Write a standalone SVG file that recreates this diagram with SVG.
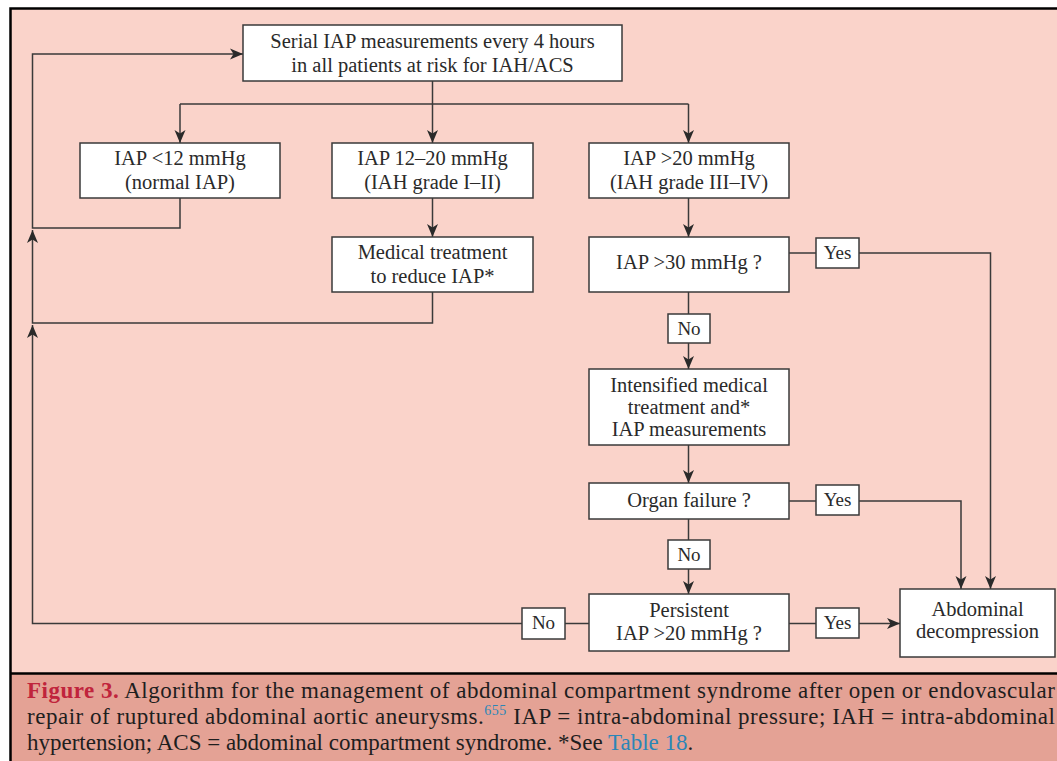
<svg xmlns="http://www.w3.org/2000/svg" width="1057" height="761" viewBox="0 0 1057 761">
<style>
.bg{fill:#fad3ca}
.cap{fill:#e4a295}
.box{fill:#ffffff;stroke:#3a3a3a;stroke-width:1.5}
.t{font-family:"Liberation Serif","Times New Roman",serif;font-size:20.5px;fill:#2a2a2a;text-anchor:middle}
.l{font-family:"Liberation Serif","Times New Roman",serif;font-size:19px;fill:#2a2a2a;text-anchor:middle}
.c{font-family:"Liberation Serif","Times New Roman",serif;font-size:23px;fill:#1e1e1e}
.ln{fill:none;stroke:#3a3a3a;stroke-width:1.5}
.ar{marker-end:url(#ah)}
</style>
<defs>
<marker id="ah" markerUnits="userSpaceOnUse" markerWidth="14" markerHeight="12" viewBox="0 0 14 12" refX="13" refY="6" orient="auto">
<path d="M0,0.5 L13,6 L0,11.5 L3.5,6 Z" fill="#2a2a2a"/>
</marker>
</defs>
<rect x="0" y="0" width="1057" height="761" fill="#ffffff"/>
<rect class="bg" x="10" y="8" width="1060" height="666"/>
<rect class="cap" x="10" y="674" width="1060" height="90"/>
<path d="M10.5,761 V8.5 H1060" fill="none" stroke="#000" stroke-width="2.5"/>
<path d="M10,673.5 H1060" fill="none" stroke="#000" stroke-width="2.5"/>

<g id="connectors">
<path class="ln" d="M432.5,81 V104"/>
<path class="ln" d="M180,104 H688.5"/>
<path class="ln ar" d="M180,104 V143"/>
<path class="ln ar" d="M432.5,104 V143"/>
<path class="ln ar" d="M688.5,104 V143"/>
<path class="ln ar" d="M432.5,198 V237"/>
<path class="ln ar" d="M688.5,198 V237"/>
<path class="ln ar" d="M180,198 V228 H32.5 V54 H243"/>
<path class="ln ar" d="M432.5,292 V323 H32.5 V230"/>
<path class="ln ar" d="M522,623.5 H32.5 V325"/>
<path class="ln" d="M589,623.5 H565"/>
<path class="ln" d="M789,253 H816"/>
<path class="ln ar" d="M859,253 H990.5 V589"/>
<path class="ln" d="M688.5,292 V314"/>
<path class="ln ar" d="M688.5,343 V369"/>
<path class="ln ar" d="M688.5,445 V483"/>
<path class="ln" d="M789,501 H816"/>
<path class="ln ar" d="M859,501 H961 V589"/>
<path class="ln" d="M688.5,519 V540"/>
<path class="ln ar" d="M688.5,569 V594"/>
<path class="ln" d="M789,623.5 H816"/>
<path class="ln ar" d="M859,623.5 H900"/>
</g>

<g id="n-top">
<rect class="box" x="243" y="25" width="379" height="56"/>
<text class="t" x="432.5" y="48">Serial IAP measurements every 4 hours</text>
<text class="t" x="432.5" y="72">in all patients at risk for IAH/ACS</text>
</g>
<g id="n-low">
<rect class="box" x="80" y="143" width="200" height="55"/>
<text class="t" x="180" y="165">IAP &lt;12 mmHg</text>
<text class="t" x="180" y="189">(normal IAP)</text>
</g>
<g id="n-mid">
<rect class="box" x="332" y="143" width="201" height="55"/>
<text class="t" x="432.5" y="165">IAP 12–20 mmHg</text>
<text class="t" x="432.5" y="189">(IAH grade I–II)</text>
</g>
<g id="n-high">
<rect class="box" x="589" y="143" width="200" height="55"/>
<text class="t" x="689" y="165">IAP &gt;20 mmHg</text>
<text class="t" x="689" y="189">(IAH grade III–IV)</text>
</g>
<g id="n-medical">
<rect class="box" x="332" y="237" width="201" height="55"/>
<text class="t" x="432.5" y="259">Medical treatment</text>
<text class="t" x="432.5" y="283">to reduce IAP*</text>
</g>
<g id="n-iap30">
<rect class="box" x="589" y="237" width="200" height="55"/>
<text class="t" x="689" y="269">IAP &gt;30 mmHg ?</text>
</g>
<g id="lbl-yes1">
<rect class="box" x="816" y="238" width="43" height="30"/>
<text class="l" x="837.5" y="259">Yes</text>
</g>
<g id="lbl-no1">
<rect class="box" x="668" y="314" width="42" height="29"/>
<text class="l" x="689" y="335">No</text>
</g>
<g id="n-intensified">
<rect class="box" x="589" y="369" width="200" height="76"/>
<text class="t" x="689" y="392">Intensified medical</text>
<text class="t" x="689" y="414">treatment and*</text>
<text class="t" x="689" y="436">IAP measurements</text>
</g>
<g id="n-organ">
<rect class="box" x="589" y="483" width="200" height="36"/>
<text class="t" x="689" y="507">Organ failure ?</text>
</g>
<g id="lbl-yes2">
<rect class="box" x="816" y="485" width="43" height="30"/>
<text class="l" x="837.5" y="506">Yes</text>
</g>
<g id="lbl-no2">
<rect class="box" x="668" y="540" width="42" height="29"/>
<text class="l" x="689" y="561">No</text>
</g>
<g id="n-persistent">
<rect class="box" x="589" y="594" width="200" height="57"/>
<text class="t" x="689" y="617">Persistent</text>
<text class="t" x="689" y="640">IAP &gt;20 mmHg ?</text>
</g>
<g id="lbl-yes3">
<rect class="box" x="816" y="608" width="43" height="30"/>
<text class="l" x="837.5" y="629">Yes</text>
</g>
<g id="lbl-no3">
<rect class="box" x="522" y="608" width="43" height="31"/>
<text class="l" x="543.5" y="629">No</text>
</g>
<g id="n-decompression">
<rect class="box" x="900" y="589" width="155" height="68"/>
<text class="t" x="977.5" y="616">Abdominal</text>
<text class="t" x="977.5" y="638">decompression</text>
</g>

<g id="caption">
<text class="c" x="27" y="698" textLength="1028" lengthAdjust="spacing"><tspan fill="#c0243c" font-weight="bold">Figure 3.</tspan> Algorithm for the management of abdominal compartment syndrome after open or endovascular</text>
<text class="c" x="27" y="724" textLength="1028" lengthAdjust="spacing">repair of ruptured abdominal aortic aneurysms.<tspan fill="#2a86b8" font-size="14" dy="-9">655</tspan><tspan dy="9"> IAP = intra-abdominal pressure; IAH = intra-abdominal</tspan></text>
<text class="c" x="27" y="750">hypertension; ACS = abdominal compartment syndrome. *See <tspan fill="#2a86b8">Table 18</tspan>.</text>
</g>
</svg>
